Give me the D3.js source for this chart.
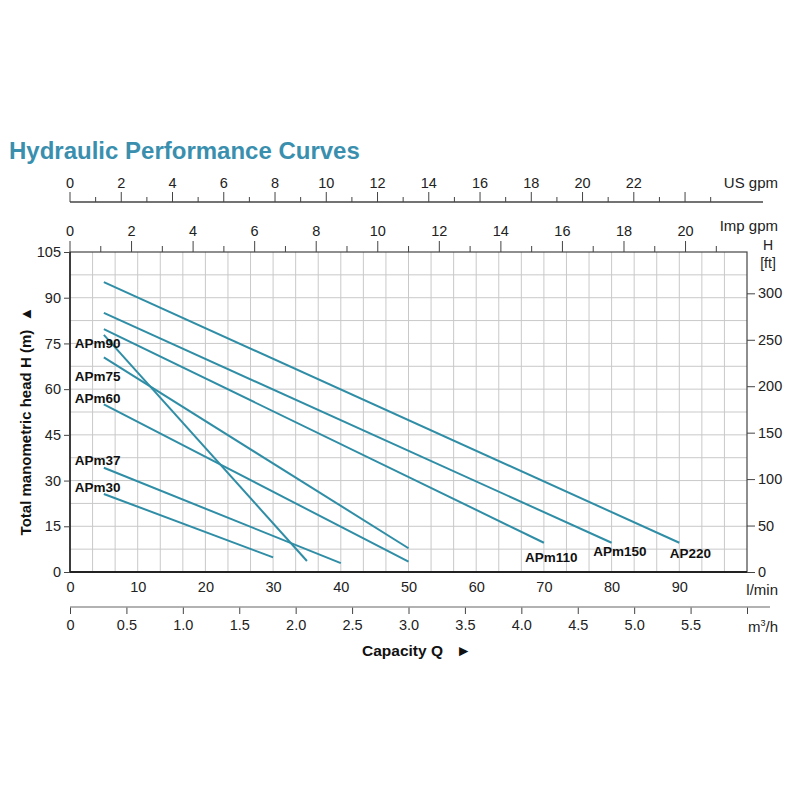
<!DOCTYPE html>
<html>
<head>
<meta charset="utf-8">
<title>Hydraulic Performance Curves</title>
<script src="https://d3js.org/d3.v7.min.js"></script>
<style>
  body { margin: 0; background: #fff; }
  svg { font-family: "Liberation Sans", Arial, sans-serif; }
  .tick text { font-size: 14.5px; fill: #222; }
  .axis path, .axis line { stroke: #444; }
  .grid line { stroke: #c9c9c9; stroke-width: 1; }
  .curve { fill: none; stroke: #2f8ea6; stroke-width: 2; }
  .curve-label { font-size: 13.5px; font-weight: bold; fill: #111; }
</style>
</head>
<body>
<svg width="800" height="800"></svg>
<script>
// pump curves: [capacity l/min, head m] at start and end
var pumps = ["APm30", "APm37", "APm60", "APm75", "APm90", "APm110", "APm150", "AP220"];
var startFlow = [5, 5, 5, 5, 5, 5, 5, 5];
var startHead = [25.6, 34.2, 55, 70.4, 77.8, 79.7, 85, 95.1];
var endFlow = [30, 40, 50, 50, 35, 70, 80, 90];
var endHead = [4.8, 2.9, 3.4, 7.8, 3.6, 9.6, 9.6, 9.6];
// where each name is written, in the same units (l/min, m)
var labelFlow = [0.7, 0.7, 0.7, 0.7, 0.7, 67.2, 77.3, 88.6];
var labelHead = [26.2, 35.1, 55.4, 62.7, 73.5, 3.3, 5.2, 4.6];

var headTicks = [0, 15, 30, 45, 60, 75, 90, 105];
var ftTicks = [0, 50, 100, 150, 200, 250, 300];
var lminTicks = [0, 10, 20, 30, 40, 50, 60, 70, 80, 90];
var m3hTicks = [0, 0.5, 1.0, 1.5, 2.0, 2.5, 3.0, 3.5, 4.0, 4.5, 5.0, 5.5, 6.0];
var usTicks = d3.range(0, 26);
var impTicks = d3.range(0, 22);

var pl = 70, pr = 747, pt = 252, pb = 572;

var svg = d3.select("svg");

var x = d3.scaleLinear().domain([0, 100]).range([pl, pr]);
var y = d3.scaleLinear().domain([0, 105]).range([pb, pt]);
var xm3 = d3.scaleLinear().domain([0, 6]).range([pl, pr]);
var xus = d3.scaleLinear().domain([0, 100 / 3.78541]).range([pl, pr]);
var ximp = d3.scaleLinear().domain([0, 100 / 4.54609]).range([pl, pr]);
var yft = d3.scaleLinear().domain([0, 105 / 0.3048]).range([pb, pt]);

// title
svg.append("text")
  .attr("x", 9).attr("y", 159)
  .style("font-size", "24px").style("font-weight", "bold")
  .style("fill", "#3a8fae")
  .text("Hydraulic Performance Curves");

// grid
var grid = svg.append("g").attr("class", "grid");
grid.selectAll(".v").data(d3.range(1, 30)).enter().append("line")
  .attr("x1", function(d) { return xm3(d * 0.2); })
  .attr("x2", function(d) { return xm3(d * 0.2); })
  .attr("y1", pt).attr("y2", pb);
grid.selectAll(".h").data(d3.range(1, 14)).enter().append("line")
  .attr("x1", pl).attr("x2", pr)
  .attr("y1", function(d) { return y(d * 7.5); })
  .attr("y2", function(d) { return y(d * 7.5); });

// frame
svg.append("rect")
  .attr("x", pl).attr("y", pt)
  .attr("width", pr - pl).attr("height", pb - pt)
  .attr("fill", "none").attr("stroke", "#444").attr("stroke-width", 1.2);
svg.append("line")
  .attr("x1", pl).attr("x2", pr).attr("y1", pb).attr("y2", pb)
  .attr("stroke", "#222").attr("stroke-width", 2);
svg.append("line")
  .attr("x1", pl).attr("x2", pl).attr("y1", pt).attr("y2", pb)
  .attr("stroke", "#222").attr("stroke-width", 1.5);

// left axis (m)
svg.append("g").attr("class", "axis")
  .attr("transform", "translate(" + pl + ",0)")
  .call(d3.axisLeft(y).tickValues(headTicks).tickSize(6).tickPadding(3).tickSizeOuter(0))
  .call(function(g) { g.select(".domain").remove(); });

// right axis (ft)
svg.append("g").attr("class", "axis")
  .attr("transform", "translate(" + pr + ",0)")
  .call(d3.axisRight(yft).tickValues(ftTicks).tickSize(8).tickPadding(3).tickSizeOuter(0))
  .call(function(g) { g.select(".domain").remove(); });

// bottom l/min labels
svg.append("g").attr("class", "axis")
  .attr("transform", "translate(0," + pb + ")")
  .call(d3.axisBottom(x).tickValues(lminTicks).tickSize(0).tickPadding(10))
  .call(function(g) { g.select(".domain").remove(); });

// bottom m3/h axis
svg.append("g").attr("class", "axis")
  .attr("transform", "translate(0,607)")
  .call(d3.axisBottom(xm3).tickValues(m3hTicks).tickSize(7).tickPadding(6)
    .tickFormat(function(d) { return d === 0 ? "0" : d3.format(".1f")(d); }))
  .call(function(g) {
    g.select(".domain").remove();
    g.selectAll("line").attr("stroke", "#888");
    g.selectAll(".tick text").filter(function(d) { return d === 6; }).remove();
  });
svg.append("line")
  .attr("x1", pl).attr("x2", 770).attr("y1", 607).attr("y2", 607)
  .attr("stroke", "#999").attr("stroke-width", 1.5);

// top US gpm axis
var usAxis = svg.append("g").attr("class", "axis").attr("transform", "translate(0,202)");
usAxis.selectAll("line").data(usTicks).enter().append("line")
  .attr("x1", function(d) { return xus(d); }).attr("x2", function(d) { return xus(d); })
  .attr("y1", 0).attr("y2", function(d) { return d % 2 === 0 ? -10 : -5; })
  .attr("stroke", "#777");
usAxis.selectAll("text").data(usTicks.filter(function(d) { return d % 2 === 0 && d <= 22; })).enter().append("text")
  .attr("x", function(d) { return xus(d); }).attr("y", -14)
  .attr("text-anchor", "middle").style("font-size", "14.5px").style("fill", "#222")
  .text(function(d) { return d; });
usAxis.append("line").attr("x1", pl).attr("x2", 763).attr("y1", 0).attr("y2", 0)
  .attr("stroke", "#888").attr("stroke-width", 1.5);

// top Imp gpm axis (on the frame)
var impAxis = svg.append("g").attr("class", "axis").attr("transform", "translate(0," + pt + ")");
impAxis.selectAll("line").data(impTicks).enter().append("line")
  .attr("x1", function(d) { return ximp(d); }).attr("x2", function(d) { return ximp(d); })
  .attr("y1", 0).attr("y2", function(d) { return d % 2 === 0 ? -11 : -6; })
  .attr("stroke", "#777");
impAxis.selectAll("text").data(impTicks.filter(function(d) { return d % 2 === 0; })).enter().append("text")
  .attr("x", function(d) { return ximp(d); }).attr("y", -16)
  .attr("text-anchor", "middle").style("font-size", "14.5px").style("fill", "#222")
  .text(function(d) { return d; });

// unit labels
function unit(tx, ty, str, anchor, size) {
  return svg.append("text").attr("x", tx).attr("y", ty)
    .attr("text-anchor", anchor || "start")
    .style("font-size", (size || 15) + "px").style("fill", "#222").text(str);
}
unit(778, 188, "US gpm", "end");
unit(778, 231, "Imp gpm", "end");
unit(768, 250, "H", "middle", 14);
unit(768, 268, "[ft]", "middle", 14);
unit(778, 595, "l/min", "end");
var m3 = unit(778, 632, "", "end");
m3.append("tspan").text("m");
m3.append("tspan").attr("dy", -6).style("font-size", "9px").text("3");
m3.append("tspan").attr("dy", 6).text("/h");

// axis titles
svg.append("text")
  .attr("x", 362).attr("y", 656)
  .style("font-size", "15.5px").style("font-weight", "bold").style("fill", "#111")
  .text("Capacity Q \u00a0 \u25BA");
svg.append("text")
  .attr("transform", "translate(31,421) rotate(-90)")
  .attr("text-anchor", "middle")
  .style("font-size", "15px").style("font-weight", "bold").style("fill", "#111")
  .text("Total manometric head H (m) \u00a0\u25B2");

// curves
svg.selectAll(".curve").data(pumps).enter().append("line")
  .attr("class", "curve")
  .attr("x1", function(d, i) { return x(startFlow[i]); })
  .attr("y1", function(d, i) { return y(startHead[i]); })
  .attr("x2", function(d, i) { return x(endFlow[i]); })
  .attr("y2", function(d, i) { return y(endHead[i]); });

svg.selectAll(".curve-label").data(pumps).enter().append("text")
  .attr("class", "curve-label")
  .attr("x", function(d, i) { return x(labelFlow[i]); })
  .attr("y", function(d, i) { return y(labelHead[i]); })
  .text(function(d) { return d; });
</script>
</body>
</html>
